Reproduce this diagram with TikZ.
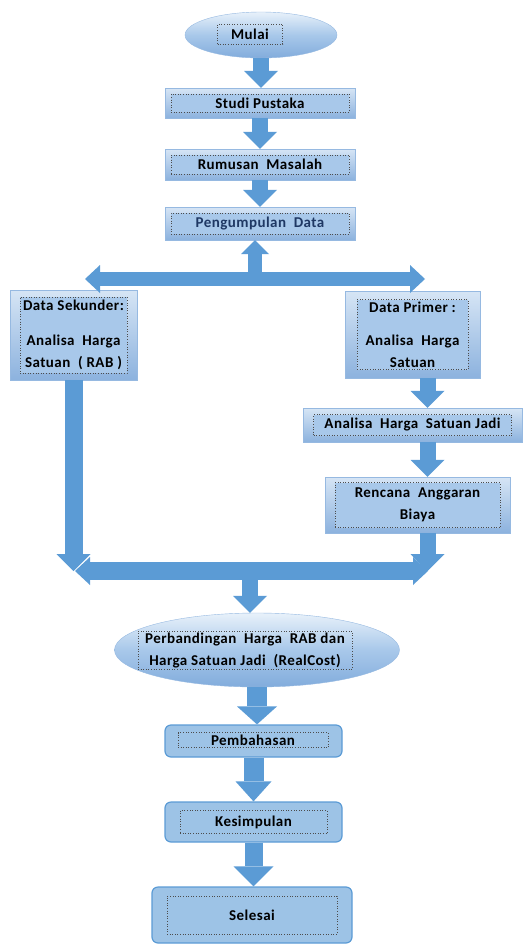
\documentclass[tikz,border=0pt]{standalone}
\usepackage{fontspec}
\setmainfont{Carlito}[LetterSpace=3]
\usetikzlibrary{arrows.meta,shapes.geometric}
\definecolor{flowblue}{RGB}{91,155,213}
\definecolor{boxtop}{RGB}{214,229,245}
\definecolor{boxbot}{RGB}{140,178,222}
\definecolor{boxplane}{RGB}{168,200,234}
\definecolor{boxedge}{RGB}{150,185,225}
\definecolor{roundfill}{RGB}{157,195,230}
\definecolor{ovaltop}{RGB}{232,241,250}
\definecolor{ovalbot}{RGB}{130,172,220}
\definecolor{inkblue}{RGB}{31,56,100}

\begin{document}
\begin{tikzpicture}[x=1pt,y=-1pt,
  every node/.style={font=\bfseries\fontsize{15}{22}\selectfont},
  bevel/.style={rectangle,draw=boxedge,top color=boxtop,bottom color=boxbot,inner sep=0pt},
  oval/.style={ellipse,draw=boxedge,top color=ovaltop,bottom color=ovalbot,middle color=boxplane,inner sep=0pt},
  roundbox/.style={rectangle,rounded corners=6pt,draw=flowblue,line width=1.2pt,fill=roundfill,inner sep=0pt},
  dotbox/.style={rectangle,draw=black!70,dotted,line width=0.6pt,inner sep=0.5pt,align=center},
  flow/.style={draw=flowblue,line width=16pt,-{Triangle[width=34pt,length=17pt,line width=0pt]}},
  bar/.style={draw=flowblue,line width=14pt,{Triangle[width=28pt,length=15pt,line width=0pt]}-{Triangle[width=28pt,length=15pt,line width=0pt]}}
]
  \useasboundingbox (0,0) rectangle (530,945);
  % top column
  \node[oval,minimum width=152pt,minimum height=46pt] (mulai) at (261,35) {};
  \node[dotbox,minimum width=65pt,minimum height=20pt] (mulaiT) at (250,34) {Mulai};
  \node[bevel,minimum width=190pt,minimum height=30pt] (studi) at (260,103) {};
  \node[dotbox,fill=boxplane,minimum width=178pt,minimum height=18pt] (studiT) at (studi) {Studi Pustaka};
  \node[bevel,minimum width=190pt,minimum height=31pt] (rumus) at (260,164.5) {};
  \node[dotbox,fill=boxplane,minimum width=178pt,minimum height=19pt] (rumusT) at (rumus) {Rumusan\ \ Masalah};
  \node[bevel,minimum width=190pt,minimum height=33pt] (peng) at (260,223.5) {};
  \node[dotbox,fill=boxplane,minimum width=178pt,minimum height=21pt,text=inkblue] (pengT) at (peng) {Pengumpulan\ \ Data};
  % two branches
  \node[bevel,minimum width=127pt,minimum height=90pt] (sek) at (73.5,335) {};
  \node[dotbox,fill=boxplane,minimum width=107pt,minimum height=76pt] (sekT) at (sek) {Data Sekunder:\\[13pt]Analisa\ \ Harga\\Satuan\ \ ( RAB )};
  \node[bevel,minimum width=135pt,minimum height=87pt] (prim) at (412.5,334.5) {};
  \node[dotbox,fill=boxplane,minimum width=111pt,minimum height=70pt] (primT) at (prim) {Data Primer :\\[11pt]Analisa\ \ Harga\\Satuan};
  \node[bevel,minimum width=219pt,minimum height=34pt] (hsj) at (412.5,425) {};
  \node[dotbox,fill=boxplane,minimum width=198pt,minimum height=21pt] (hsjT) at (hsj) {Analisa\ \ Harga\ \ Satuan Jadi};
  \node[bevel,minimum width=185pt,minimum height=56pt] (rab) at (417.5,505) {};
  \node[dotbox,fill=boxplane,minimum width=165pt,minimum height=45pt] (rabT) at (rab) {Rencana\ \ Anggaran\\Biaya};
  % bottom column
  \node[oval,minimum width=285pt,minimum height=74pt] (perb) at (257,650) {};
  \node[dotbox,minimum width=214pt,minimum height=38pt] (perbT) at (245,650) {Perbandingan\ \ Harga\ \ RAB dan\\Harga Satuan Jadi\ \ (RealCost)};
  \node[roundbox,minimum width=177pt,minimum height=32pt] (pemb) at (253.5,741) {};
  \node[dotbox,minimum width=150pt,minimum height=15pt] (pembT) at (253,740) {Pembahasan};
  \node[roundbox,minimum width=177pt,minimum height=40pt] (kes) at (253.5,822) {};
  \node[dotbox,minimum width=147pt,minimum height=23pt] (kesT) at (kes) {Kesimpulan};
  \node[roundbox,minimum width=200pt,minimum height=56pt] (sel) at (252,915) {};
  \node[dotbox,minimum width=170pt,minimum height=38pt] (selT) at (sel) {Selesai};

  \coordinate (split) at (255,279);
  \coordinate (splitL) at (85,279);
  \coordinate (splitR) at (425,279);
  \coordinate (merge) at (250,571);
  \coordinate (mergeL) at (75,571);
  \coordinate (mergeR) at (428,571);

  \draw[flow] (mulai.south) -- (mulai.south |- studi.north);
  \draw[flow] (studi.south) -- (rumus.north);
  \draw[flow] (rumus.south) -- (peng.north);
  \draw[flow,line width=14pt,-{Triangle[width=28pt,length=14pt,line width=0pt]}] (split) -- (split |- peng.south);
  \draw[bar] (splitL) -- (splitR);
  \draw[flow,line width=18pt] (sek.south) -- (sek.south |- merge);
  \draw[flow] ([xshift=15pt]prim.south) -- ([xshift=15pt]hsj.north);
  \draw[flow] ([xshift=15pt]hsj.south) -- ([xshift=10pt]rab.north);
  \draw[flow] ([xshift=10pt]rab.south) -- ([xshift=10pt]rab.south |- merge);
  \draw[bar,line width=18pt] (mergeL) -- (mergeR);
  \draw[flow] (merge) -- (merge |- perb.north);
  \draw[flow,line width=20pt,-{Triangle[width=40pt,length=18pt,line width=0pt]}] (perb.south) -- (perb.south |- pemb.north);
  \draw[flow,line width=20pt,-{Triangle[width=36pt,length=20pt,line width=0pt]}] (pemb.south) -- (pemb.south |- kes.north);
  \draw[flow,line width=18pt,-{Triangle[width=40pt,length=20pt,line width=0pt]}] (kes.south) -- (kes.south |- sel.north);
\end{tikzpicture}
\end{document}
